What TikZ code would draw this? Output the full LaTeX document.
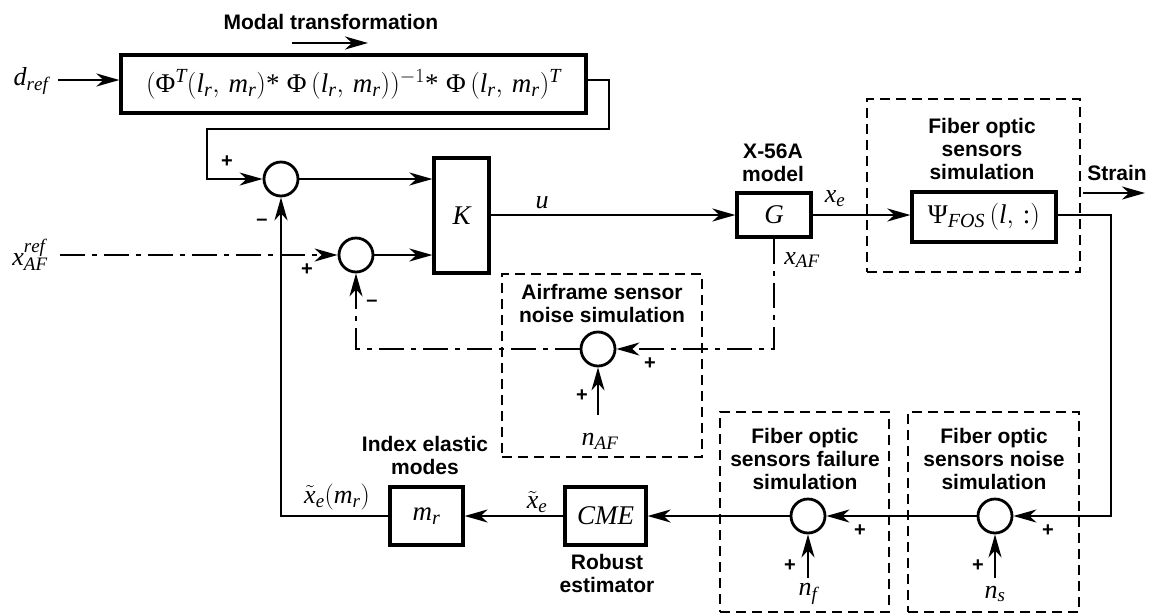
\RequirePackage{fix-cm}
\documentclass[tikz,border=0pt]{standalone}
\usepackage{fontspec}
\newfontfamily\labfont{Liberation Sans}
\newfontfamily\tms[NFSSFamily=tms]{Liberation Serif}
\DeclareMathAlphabet{\mathtm}{TU}{tms}{m}{it}
\DeclareMathSizes{27}{27}{20}{15}
\DeclareMathSizes{26}{26}{19}{14}
\newcommand\mv[1]{\mathtm{#1}}
\newcommand\gk[1]{\mbox{\tms #1}}
\usetikzlibrary{arrows.meta}
\begin{document}
\begin{tikzpicture}[x=1pt,y=-1pt,
  line width=2.2pt,
  arr/.style={-{Stealth[length=23pt,width=13pt,inset=7pt]}},
  blk/.style={draw,line width=3.2pt,inner sep=0pt,font=\fontsize{27}{32}\selectfont},
  sumnode/.style={draw,circle,line width=2.8pt,minimum size=34pt,inner sep=0pt},
  dbox/.style={draw,line width=2.8pt,dash pattern=on 10pt off 6pt,inner sep=0pt},
  dashdot/.style={dash pattern=on 25pt off 7pt on 5pt off 7pt},
  lab/.style={align=center,inner sep=0pt,font=\labfont\bfseries\fontsize{21}{23}\selectfont},
  sgn/.style={inner sep=0pt,font=\labfont\bfseries\fontsize{20}{22}\selectfont},
  mlab/.style={inner sep=0pt,font=\fontsize{26}{31}\selectfont},
]
\useasboundingbox (0,0) rectangle (1153,614);

% ---- blocks
\node[blk,minimum width=465pt,minimum height=58pt] (modal) at (353.5,84)
  {$(\gk{Φ}^{\mv{T}}(\mv{l}_{\mv{r}},\, \mv{m}_{\mv{r}})\gk{*}\;\gk{Φ}\,(\mv{l}_{\mv{r}},\, \mv{m}_{\mv{r}}))^{-1}\gk{*}\;\gk{Φ}\,(\mv{l}_{\mv{r}},\, \mv{m}_{\mv{r}})^{\mv{T}}$};
\node[blk,minimum width=55pt,minimum height=115pt] (K) at (461.5,215.5) {$\mv{K}$};
\node[blk,minimum width=74pt,minimum height=44pt] (G) at (774,215) {$\mv{G}$};
\node[blk,minimum width=144pt,minimum height=50pt] (psi) at (984,217) {$\gk{Ψ}_{\mv{FOS}}\,(\mv{l},\,\gk{:})$};
\node[blk,minimum width=73pt,minimum height=58pt] (mr) at (426.5,516) {$\mv{m}_{\mv{r}}$};
\node[blk,minimum width=81pt,minimum height=58pt] (cme) at (605.5,516) {$\mv{CME}$};

% ---- summing junctions
\node[sumnode] (s1) at (281,179) {};
\node[sumnode] (s2) at (356,255) {};
\node[sumnode] (s3) at (598,349) {};
\node[sumnode] (s4) at (808,516) {};
\node[sumnode] (s5) at (995,516) {};

% ---- dashed frames
\node[dbox,minimum width=213pt,minimum height=173pt] (fos) at (973.5,185.5) {};
\node[dbox,minimum width=200pt,minimum height=183pt] (afn) at (602,365.5) {};
\node[dbox,minimum width=169pt,minimum height=200pt] (ffail) at (804.5,512) {};
\node[dbox,minimum width=171pt,minimum height=200pt] (fnoise) at (993.5,512) {};

% ---- bold labels
\node[lab] (lmodal) at (331,22) {Modal transformation};
\node[lab] (lx56) at (773,163) {X-56A\\model};
\node[lab] (lfos) at (982,149) {Fiber optic\\sensors\\simulation};
\node[lab] (lafn) at (602,303) {Airframe sensor\\noise simulation};
\node[lab] (lfail) at (805,459) {Fiber optic\\sensors failure\\simulation};
\node[lab] (lnoise) at (994,459) {Fiber optic\\sensors noise\\simulation};
\node[lab] (lidx) at (425,455) {Index elastic\\modes};
\node[lab] (lrob) at (607,573) {Robust\\estimator};
\node[lab] (lstrain) at (1117,173) {Strain};

% ---- math labels
\node[mlab] (dref) at (31,81) {$\mv{d}_{\mv{ref}}$};
\node[mlab] (xafref) at (30,255) {$\mv{x}_{\mv{AF}}^{\mv{ref}}$};
\node[mlab] (lu) at (542,203) {$\mv{u}$};
\node[mlab] (lxe) at (835,199) {$\mv{x}_{\mv{e}}$};
\node[mlab] (lxaf) at (802,260) {$\mv{x}_{\mv{AF}}$};
\node[mlab] (lxt) at (537,502) {$\tilde{\mv{x}}_{\mv{e}}$};
\node[mlab] (lxtm) at (337,497) {$\tilde{\mv{x}}_{\mv{e}}(\mv{m}_{\mv{r}})$};
\node[mlab] (naf) at (600,441) {$\mv{n}_{\mv{AF}}$};
\node[mlab] (nf) at (808,594) {$\mv{n}_{\mv{f}}$};
\node[mlab] (ns) at (995,594) {$\mv{n}_{\mv{s}}$};

% ---- coordinates
\coordinate (drefout) at (58,80);
\coordinate (modalout) at (586,80);
\coordinate (tr) at (609,80);
\coordinate (tl) at (207,129);
\coordinate (xafout) at (60,255);
\coordinate (rc) at (1111,516);
\coordinate (strainA) at (1083,193);
\coordinate (strainB) at (1145,193);
\coordinate (mtA) at (292,43);
\coordinate (mtB) at (368,43);
\coordinate (nafin) at (598,415);
\coordinate (nfin) at (808,578);
\coordinate (nsin) at (995,578);

% ---- connectors
\draw[arr] (mtA) -- (mtB);
\draw[arr] (drefout) -- (drefout -| modal.west);
\draw[arr] (modalout) -- (tr) |- (tl) |- (s1.west);
\draw[arr] (s1.east) -- (s1.east -| K.west);
\draw[arr,dashdot] (xafout) -- (s2.west);
\draw[arr] (s2.east) -- (s2.east -| K.west);
\draw[arr] (K.east |- G.west) -- (G.west);
\draw[arr] (G.east) -- (G.east -| psi.west);
\draw[arr] (strainA) -- (strainB);
\draw[arr] (G.east -| psi.east) -| (rc) -- (s5.east);
\draw[arr] (s5.west) -- (s4.east);
\draw[arr] (s4.west) -- (cme.east);
\draw[arr] (cme.west) -- (mr.east);
\draw[arr] (mr.west) -| (s1.south);
\draw[arr,dashdot] (G.south) |- (s3.east);
\draw[arr,dashdot] (s3.west) -| (s2.south);
\draw[arr] (nafin) -- (s3.south);
\draw[arr] (nfin) -- (s4.south);
\draw[arr] (nsin) -- (s5.south);

% ---- signs
\node[sgn] at (227,162) {+};
\node[sgn] at (262,222) {–};
\node[sgn] at (307,270) {+};
\node[sgn] at (372,303) {–};
\node[sgn] at (650,364) {+};
\node[sgn] at (582,396) {+};
\node[sgn] at (860,531) {+};
\node[sgn] at (790,566) {+};
\node[sgn] at (1048,531) {+};
\node[sgn] at (978,566) {+};
\end{tikzpicture}
\end{document}
